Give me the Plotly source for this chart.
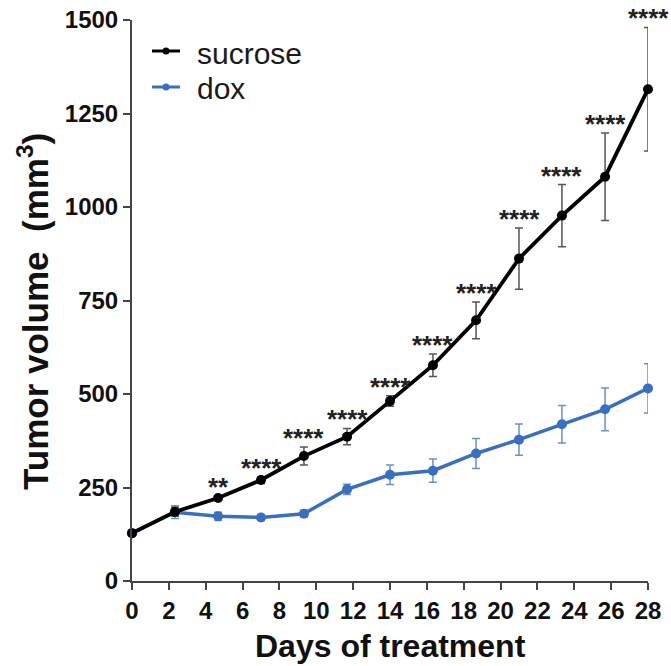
import plotly.graph_objects as go

days = [0, 2.33, 4.67, 7, 9.33, 11.67, 14, 16.33, 18.67, 21, 23.33, 25.67, 28]
sucrose = [128, 185, 222, 270, 334, 386, 481, 577, 697, 862, 977, 1081, 1315]
sucrose_err = [4, 12, 6, 9, 24, 22, 14, 30, 49, 82, 83, 117, 165]
dox = [128, 184, 173, 170, 180, 245, 284, 295, 341, 378, 419, 459, 515]
dox_err = [4, 17, 11, 8, 9, 14, 26, 31, 40, 42, 50, 57, 66]
significance = ["", "", "**", "****", "****", "****", "****", "****", "****", "****", "****", "****", "****"]

x_ticks = list(range(0, 29, 2))
y_ticks = [0, 250, 500, 750, 1000, 1250, 1500]

BLUE = "#3A6EC0"
FONT = "Arial, Liberation Sans, sans-serif"

fig = go.Figure()
fig.add_trace(go.Scatter(
    x=days, y=dox, mode="lines+markers", name="dox",
    line=dict(color=BLUE, width=3.5),
    marker=dict(color=BLUE, size=10),
    error_y=dict(type="data", array=dox_err, color="#6F8FC8", thickness=1.5, width=4),
    cliponaxis=False, showlegend=False,
))
fig.add_trace(go.Scatter(
    x=days, y=sucrose, mode="lines+markers", name="sucrose",
    line=dict(color="black", width=3.8),
    marker=dict(color="black", size=10),
    error_y=dict(type="data", array=sucrose_err, color="#555555", thickness=1.5, width=4),
    cliponaxis=False, showlegend=False,
))

annotations = []
for d, v, e, s in zip(days, sucrose, sucrose_err, significance):
    if s:
        annotations.append(dict(
            x=d, y=v + e, xref="x", yref="y", text=s, showarrow=False,
            xanchor="center", yanchor="middle", yshift=9,
            font=dict(family=FONT, size=26, color="#222222", weight="bold"),
        ))

# manual legend
W, H, L, T = 516, 561, 132, 20
def px(x):
    return (x - L) / W
def py(y):
    return (T + H - y) / H

legend_items = [("sucrose", "black", 51, 54), ("dox", BLUE, 87, 88)]
shapes = []
for label, col, ly, ty in legend_items:
    shapes.append(dict(type="line", xref="paper", yref="paper",
                       x0=px(152), x1=px(180), y0=py(ly), y1=py(ly),
                       line=dict(color=col, width=3)))
    shapes.append(dict(type="circle", xref="paper", yref="paper",
                       xsizemode="pixel", ysizemode="pixel",
                       xanchor=px(166), yanchor=py(ly),
                       x0=-3.5, x1=3.5, y0=-3.5, y1=3.5,
                       fillcolor=col, line=dict(color=col, width=0)))
    annotations.append(dict(x=px(195), y=py(ty), xref="paper", yref="paper",
                            text=label, showarrow=False, xanchor="left", yanchor="middle",
                            font=dict(family=FONT, size=30, color="#1a1a1a")))

annotations.append(dict(x=px(33), y=py(312), xref="paper", yref="paper",
                        text="Tumor volume\u00a0\u00a0(mm<sup>3</sup>)", textangle=-90,
                        showarrow=False, xanchor="center", yanchor="middle",
                        font=dict(family=FONT, size=35, color="#111111", weight="bold")))
annotations.append(dict(x=0.5, y=py(646), xref="paper", yref="paper",
                        text="Days of treatment", showarrow=False,
                        xanchor="center", yanchor="middle",
                        font=dict(family=FONT, size=32, color="#111111", weight="bold")))

axis_common = dict(showgrid=False, zeroline=False, showline=True, linecolor="#444444",
                   linewidth=2, ticks="outside", ticklen=7, tickwidth=2, tickcolor="#444444",
                   automargin=False,
                   tickfont=dict(family=FONT, size=24, color="#111111", weight="bold"))

fig.update_layout(
    width=671, height=666, autosize=False,
    margin=dict(l=132, r=23, t=20, b=85, autoexpand=False),
    paper_bgcolor="white", plot_bgcolor="white",
    xaxis=dict(range=[0, 28], tickvals=x_ticks, **axis_common),
    yaxis=dict(range=[0, 1500], tickvals=y_ticks, **axis_common),
    annotations=annotations, shapes=shapes,
)

fig.write_html(
    "out.html",
    config={"displayModeBar": False},
    post_script="document.body.style.margin='0';document.body.style.padding='0';"
                "document.body.style.overflow='hidden';",
)
